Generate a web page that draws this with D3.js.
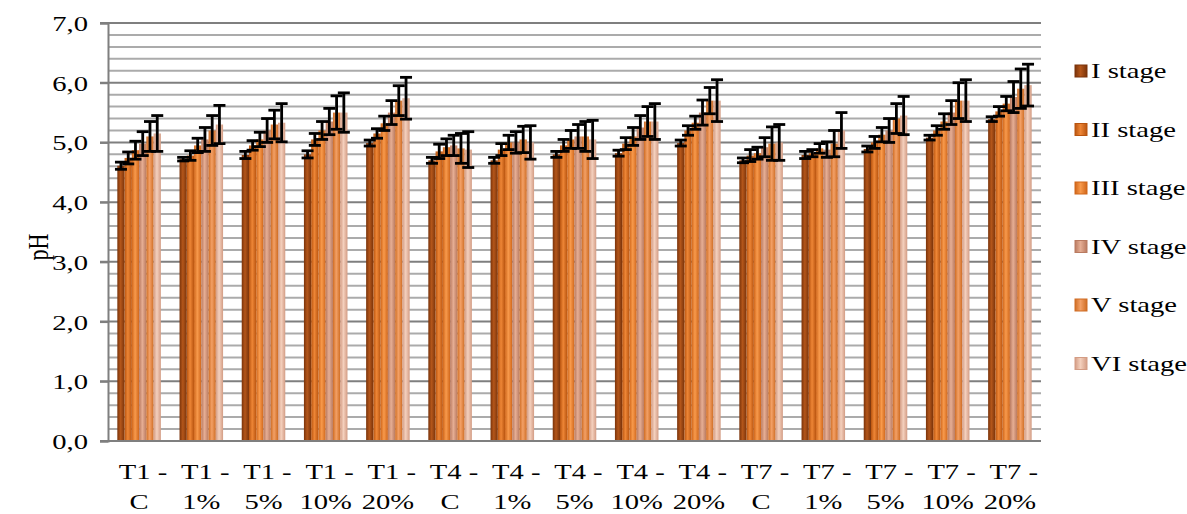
<!DOCTYPE html>
<html>
<head>
<meta charset="utf-8">
<script src="https://cdn.jsdelivr.net/npm/d3@7"></script>
<style>
  body { margin: 0; background: #fff; }
  svg text { font-family: "Liberation Serif", "DejaVu Serif", serif; fill: #000; }
</style>
</head>
<body>
<svg id="chart" width="1187" height="514"></svg>
<script>
// group labels (two lines each) and stage names
var groups = ['T1-C', 'T1-1%', 'T1-5%', 'T1-10%', 'T1-20%',
  'T4-C', 'T4-1%', 'T4-5%', 'T4-10%', 'T4-20%',
  'T7-C', 'T7-1%', 'T7-5%', 'T7-10%', 'T7-20%'];
var groupLine1 = ['T1 -', 'T1 -', 'T1 -', 'T1 -', 'T1 -', 'T4 -', 'T4 -', 'T4 -', 'T4 -', 'T4 -', 'T7 -', 'T7 -', 'T7 -', 'T7 -', 'T7 -'];
var groupLine2 = ['C', '1%', '5%', '10%', '20%', 'C', '1%', '5%', '10%', '20%', 'C', '1%', '5%', '10%', '20%'];
var stages = ['I stage', 'II stage', 'III stage', 'IV stage', 'V stage', 'VI stage'];
var yTicks = [0, 1, 2, 3, 4, 5, 6, 7];

// mean pH per group, one value per stage (I..VI)
var meanI   = [4.61, 4.72, 4.79, 4.80, 4.99, 4.70, 4.70, 4.80, 4.82, 4.99, 4.70, 4.79, 4.89, 5.08, 5.39];
var meanII  = [4.74, 4.78, 4.95, 5.05, 5.15, 4.85, 4.88, 4.95, 4.98, 5.20, 4.78, 4.82, 5.00, 5.20, 5.52];
var meanIII = [4.87, 4.95, 5.05, 5.20, 5.32, 4.92, 5.00, 5.05, 5.10, 5.33, 4.82, 4.90, 5.13, 5.35, 5.65];
var meanIV  = [4.98, 5.05, 5.20, 5.35, 5.50, 4.95, 5.00, 5.10, 5.25, 5.50, 4.92, 4.88, 5.20, 5.50, 5.76];
var meanV   = [5.10, 5.20, 5.30, 5.50, 5.70, 4.90, 5.05, 5.10, 5.35, 5.70, 4.98, 4.98, 5.40, 5.70, 5.90];
var meanVI  = [5.15, 5.30, 5.33, 5.50, 5.74, 4.88, 5.00, 5.05, 5.35, 5.70, 5.00, 5.20, 5.45, 5.70, 5.96];

// standard deviation per group, one value per stage
var errI   = [0.06, 0.03, 0.06, 0.06, 0.05, 0.05, 0.05, 0.05, 0.05, 0.05, 0.04, 0.06, 0.05, 0.04, 0.04];
var errII  = [0.10, 0.08, 0.08, 0.10, 0.08, 0.12, 0.10, 0.10, 0.10, 0.08, 0.10, 0.06, 0.10, 0.08, 0.08];
var errIII = [0.15, 0.12, 0.12, 0.15, 0.12, 0.14, 0.12, 0.15, 0.15, 0.11, 0.10, 0.08, 0.12, 0.13, 0.12];
var errIV  = [0.20, 0.20, 0.20, 0.22, 0.20, 0.17, 0.18, 0.20, 0.20, 0.21, 0.16, 0.13, 0.20, 0.20, 0.26];
var errV   = [0.25, 0.25, 0.24, 0.28, 0.25, 0.25, 0.22, 0.25, 0.25, 0.22, 0.28, 0.22, 0.25, 0.30, 0.33];
var errVI  = [0.30, 0.32, 0.32, 0.33, 0.35, 0.30, 0.28, 0.32, 0.30, 0.35, 0.30, 0.30, 0.32, 0.35, 0.35];

var means = [meanI, meanII, meanIII, meanIV, meanV, meanVI];
var errs = [errI, errII, errIII, errIV, errV, errVI];

// bar colours: [edge, centre]
var stageColors = [
  ['#7a330a', '#b4561a'],
  ['#b9540f', '#ee8636'],
  ['#d0661a', '#f89a4c'],
  ['#b97a60', '#e6ae94'],
  ['#cf6d24', '#f3a066'],
  ['#d39c84', '#f4d0bd']
];

// the source image is a bit wider than tall, text looks stretched
var stretch = 1.3;

var svg = d3.select('#chart');
var margin = { left: 108, right: 1041, top: 23, bottom: 441 };

var x0 = d3.scaleBand().domain(groups).range([margin.left, margin.right])
  .paddingInner(0.3).paddingOuter(0.15);
var x1 = d3.scaleBand().domain(d3.range(stages.length)).range([0, x0.bandwidth()]);
var y = d3.scaleLinear().domain([0, 7]).range([margin.bottom, margin.top]);

// gradients
var defs = svg.append('defs');
stageColors.forEach(function(c, i) {
  var g = defs.append('linearGradient').attr('id', 'grad' + i)
    .attr('x1', '0%').attr('x2', '100%').attr('y1', '0%').attr('y2', '0%');
  g.append('stop').attr('offset', '0%').attr('stop-color', c[0]);
  g.append('stop').attr('offset', '45%').attr('stop-color', c[1]);
  g.append('stop').attr('offset', '100%').attr('stop-color', c[0]);
});

// minor grid every 0.2, major every 1.0
var minor = d3.range(0, 7.01, 0.2).filter(function(v) { return Math.abs(v - Math.round(v)) > 0.01; });
svg.append('g').selectAll('line').data(minor).enter().append('line')
  .attr('x1', margin.left).attr('x2', margin.right)
  .attr('y1', function(d) { return y(d); }).attr('y2', function(d) { return y(d); })
  .attr('stroke', '#ababab').attr('stroke-width', 2);
svg.append('g').selectAll('line').data(yTicks.slice(1)).enter().append('line')
  .attr('x1', margin.left - 8).attr('x2', margin.right)
  .attr('y1', function(d) { return y(d); }).attr('y2', function(d) { return y(d); })
  .attr('stroke', '#7f7f7f').attr('stroke-width', 2);

// y axis
var yAxis = svg.append('g').attr('transform', 'translate(' + margin.left + ',0)')
  .call(d3.axisLeft(y).tickValues(yTicks).tickSize(8).tickPadding(12)
    .tickFormat(function(d) { return d3.format('.1f')(d).replace('.', ','); }));
yAxis.select('.domain').attr('stroke', '#7f7f7f').attr('stroke-width', 2);
yAxis.selectAll('.tick line').attr('stroke', '#7f7f7f').attr('stroke-width', 2);
yAxis.selectAll('.tick text')
  .attr('x', -20 / stretch).attr('dy', '0.34em')
  .attr('transform', 'scale(' + stretch + ',1)')
  .style('font-size', '22px').style('font-family', '"Liberation Serif", serif');

svg.append('text')
  .attr('transform', 'translate(48,' + ((margin.top + margin.bottom) / 2 + 15) + ') rotate(-90) scale(1,' + stretch + ')')
  .attr('text-anchor', 'middle').style('font-size', '22px').text('pH');

// bars
var groupG = svg.append('g').selectAll('g').data(groups).enter().append('g')
  .attr('transform', function(d) { return 'translate(' + x0(d) + ',0)'; });

groupG.selectAll('rect').data(function(d, gi) {
  return stages.map(function(s, si) { return { si: si, v: means[si][gi], e: errs[si][gi] }; });
}).enter().append('rect')
  .attr('x', function(d) { return x1(d.si); })
  .attr('width', x1.bandwidth())
  .attr('y', function(d) { return y(d.v); })
  .attr('height', function(d) { return y(0) - y(d.v); })
  .attr('fill', function(d) { return 'url(#grad' + d.si + ')'; });

// error bars
var capW = 12;
var errG = groupG.selectAll('g.err').data(function(d, gi) {
  return stages.map(function(s, si) { return { si: si, v: means[si][gi], e: errs[si][gi] }; });
}).enter().append('g').attr('class', 'err')
  .attr('stroke', '#000').attr('stroke-width', 2.8);
errG.append('line')
  .attr('x1', function(d) { return x1(d.si) + x1.bandwidth() / 2; })
  .attr('x2', function(d) { return x1(d.si) + x1.bandwidth() / 2; })
  .attr('y1', function(d) { return y(d.v + d.e); })
  .attr('y2', function(d) { return y(d.v - d.e); });
[1, -1].forEach(function(sign) {
  errG.append('line')
    .attr('x1', function(d) { return x1(d.si) + x1.bandwidth() / 2 - capW / 2; })
    .attr('x2', function(d) { return x1(d.si) + x1.bandwidth() / 2 + capW / 2; })
    .attr('y1', function(d) { return y(d.v + sign * d.e); })
    .attr('y2', function(d) { return y(d.v + sign * d.e); });
});

// x axis line
svg.append('line').attr('x1', margin.left - 8).attr('x2', margin.right)
  .attr('y1', y(0)).attr('y2', y(0)).attr('stroke', '#7f7f7f').attr('stroke-width', 2);

// x labels, two lines
var xlG = svg.append('g').selectAll('g').data(groups).enter().append('g')
  .attr('transform', function(d) {
    return 'translate(' + (x0(d) + x0.bandwidth() / 2) + ',0) scale(' + stretch + ',1)';
  });
xlG.append('text').attr('text-anchor', 'middle').style('font-size', '22px')
  .attr('x', 3).attr('y', 479)
  .text(function(d, i) { return groupLine1[i]; });
xlG.append('text').attr('text-anchor', 'middle').style('font-size', '22px')
  .attr('x', 0).attr('y', 509)
  .text(function(d, i) { return groupLine2[i]; });

// legend
var leg = svg.append('g').selectAll('g').data(stages).enter().append('g')
  .attr('transform', function(d, i) { return 'translate(1075,' + (70 + i * 58.5) + ')'; });
leg.append('rect').attr('x', 0).attr('y', -5).attr('width', 12).attr('height', 12)
  .attr('fill', function(d, i) { return 'url(#grad' + i + ')'; })
  .attr('stroke', function(d, i) { return stageColors[i][0]; }).attr('stroke-width', 1);
leg.append('text').attr('x', 16 / stretch).attr('y', 8).style('font-size', '22px')
  .attr('transform', 'scale(' + stretch + ',1)')
  .text(function(d) { return d; });
</script>
</body>
</html>
